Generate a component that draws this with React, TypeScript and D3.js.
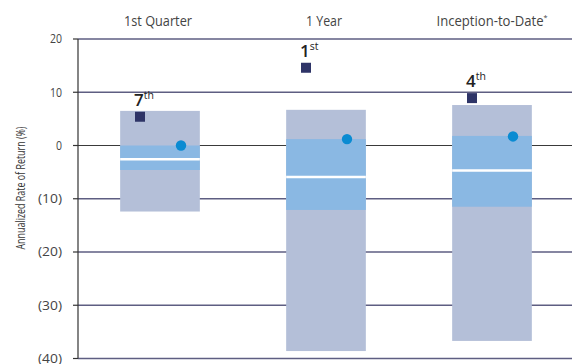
import React from "react";
import * as d3 from "d3";

const categories = ["1st Quarter", "1 Year", "Inception-to-Date"];
const titleNotes = ["", "", "*"];
const rangeHigh = [6.5, 6.7, 7.6];
const rangeLow = [-12.4, -38.6, -36.7];
const upperQuartile = [0.0, 1.2, 1.8];
const lowerQuartile = [-4.6, -12.1, -11.5];
const medians = [-2.6, -5.9, -4.7];
const fundReturns = [5.4, 14.6, 8.9];
const benchmark = [0.0, 1.2, 1.7];
const rankNums = ["7", "1", "4"];
const rankSuffix = ["th", "st", "th"];
const yTicks = [20, 10, 0, -10, -20, -30, -40];

const W = 572;
const H = 364;
const FONT = "'Open Sans', sans-serif";

export default function App() {
  const y = d3.scaleLinear().domain([-40, 20]).range([358.5, 39]);
  const x = d3
    .scaleBand<string>()
    .domain(categories)
    .range([77, 575])
    .paddingInner(0.52)
    .paddingOuter(0.26);
  const bw = x.bandwidth();
  const axisX = 78;
  const fmt = (v: number) => (v < 0 ? `(${Math.abs(v)})` : `${v}`);
  const titleWidths = [68, 36, 111];

  return (
    <svg
      width={W}
      height={H}
      style={{ position: "absolute", left: 0, top: 0 }}
      fontFamily={FONT}
    >
      {/* gridlines */}
      {yTicks.map((t) => (
        <line
          key={"g" + t}
          x1={axisX}
          x2={W}
          y1={y(t)}
          y2={y(t)}
          stroke={t === 0 ? "#3a3a3a" : "#5e5e82"}
          strokeWidth={t === 0 ? 1.2 : 1.6}
        />
      ))}
      {/* boxes */}
      {categories.map((c, i) => {
        const x0 = x(c)!;
        const cx = x0 + bw / 2;
        return (
          <g key={c}>
            <rect
              x={x0}
              width={bw}
              y={y(rangeHigh[i])}
              height={y(rangeLow[i]) - y(rangeHigh[i])}
              fill="#b4bfd8"
            />
            <rect
              x={x0}
              width={bw}
              y={y(upperQuartile[i])}
              height={y(lowerQuartile[i]) - y(upperQuartile[i])}
              fill="#8ab8e3"
            />
            <line
              x1={x0}
              x2={x0 + bw}
              y1={y(medians[i])}
              y2={y(medians[i])}
              stroke="#ffffff"
              strokeWidth={2.5}
            />
            <rect
              x={cx - 20 - 5}
              y={y(fundReturns[i]) - 5}
              width={10}
              height={10}
              fill="#2e3467"
            />
            <circle cx={cx + 21} cy={y(benchmark[i])} r={5.2} fill="#0a8bd2" />
            <text
              x={cx - 26}
              y={y(fundReturns[i]) - 11}
              textAnchor="start"
              fill="#222"
              fontSize={17}
              fontWeight={600}
            >
              <tspan>{rankNums[i]}</tspan>
              <tspan dy={-7} fontSize={10.5} fontWeight={500}>
                {rankSuffix[i]}
              </tspan>
            </text>
            <text
              x={cx + (titleNotes[i] ? 0 : -2)}
              y={26}
              textAnchor="middle"
              fill="#444"
              fontSize={14.5}
              textLength={titleWidths[i]}
              lengthAdjust="spacingAndGlyphs"
            >
              {c}
              {titleNotes[i] ? (
                <tspan dy={-6} fontSize={8}>
                  {titleNotes[i]}
                </tspan>
              ) : null}
            </text>
          </g>
        );
      })}
      {/* axis */}
      <line x1={axisX} x2={axisX} y1={y(20)} y2={y(-40)} stroke="#333" strokeWidth={1.2} />
      {yTicks.map((t) => (
        <g key={"t" + t}>
          <line x1={axisX - 5} x2={axisX} y1={y(t)} y2={y(t)} stroke="#333" strokeWidth={1.2} />
          <text
            x={62}
            y={y(t)}
            dy="0.35em"
            textAnchor="end"
            fontSize={12.5}
            fill="#444"
            textLength={t < 0 ? 24 : t === 0 ? 6 : 12}
            lengthAdjust="spacingAndGlyphs"
          >
            {fmt(t)}
          </text>
        </g>
      ))}
      <text
        transform={`translate(25,188) rotate(-90)`}
        textAnchor="middle"
        fontSize={13.5}
        fill="#333"
        textLength={123}
        lengthAdjust="spacingAndGlyphs"
      >
        Annualized Rate of Return (%)
      </text>
    </svg>
  );
}
